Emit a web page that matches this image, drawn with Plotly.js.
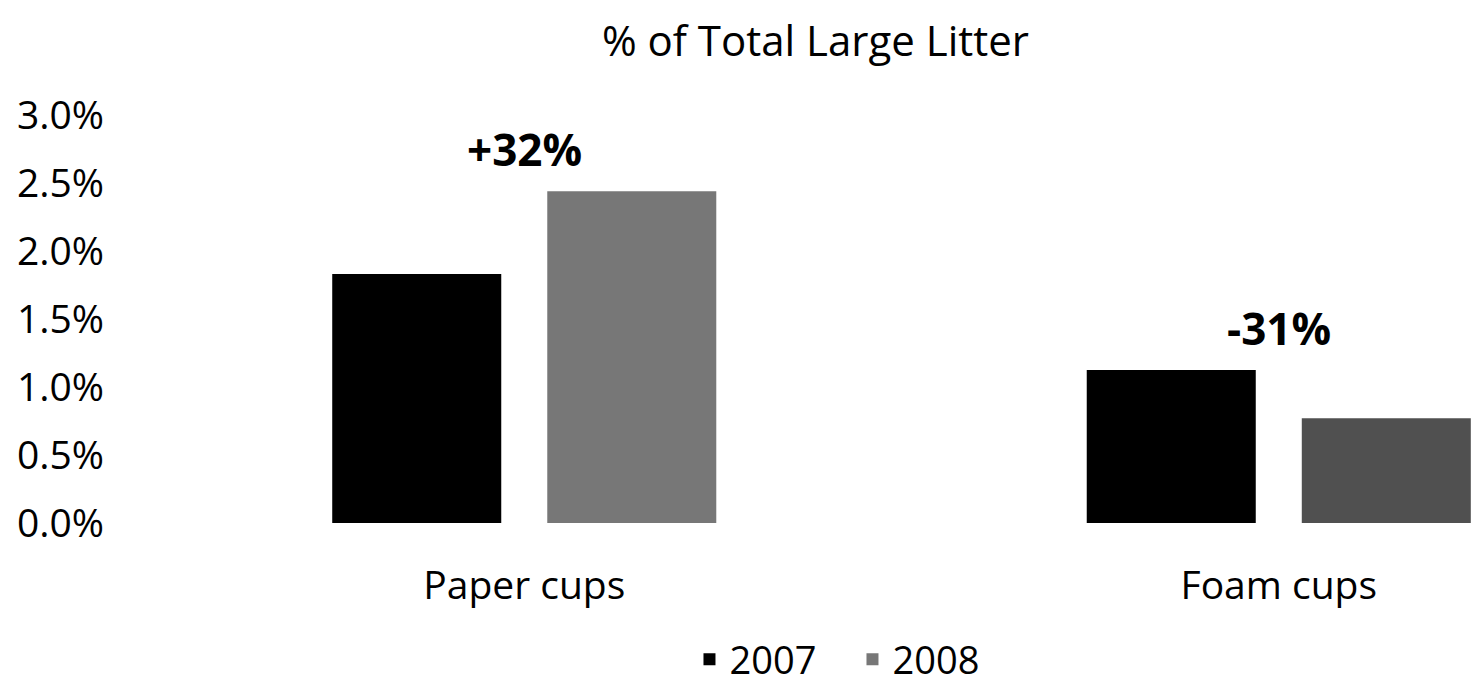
<!DOCTYPE html>
<html><head><meta charset="utf-8">
<script src="https://cdn.plot.ly/plotly-3.0.1.min.js"></script>
<style>html,body{margin:0;padding:0;background:#fff}#chart{width:1480px;height:687px}</style>
</head><body><div id="chart"></div>
<script>
const categories = ["Paper cups", "Foam cups"];
const values2007 = [0.0183, 0.01125];
const values2008 = [0.0244, 0.0077];
const changeLabels = ["+32%", "-31%"];
const yTicks = [0, 0.005, 0.01, 0.015, 0.02, 0.025, 0.03];

const font = "Open Sans, Noto Sans, sans-serif";
const traces = [
  {type: "bar", name: "2007", x: categories, y: values2007, marker: {color: "#000000"}},
  {type: "bar", name: "2008", x: categories, y: values2008, marker: {color: ["#777777", "#505050"]}}
];
const annotations = categories.map((c, i) => ({
  x: c, y: Math.max(values2007[i], values2008[i]), xref: "x", yref: "y",
  text: "<b>" + changeLabels[i] + "</b>", showarrow: false, yanchor: "bottom", yshift: 10,
  font: {family: font, size: 44, color: "#000"}
}));
const layout = {
  width: 1480, height: 687,
  margin: {l: 147, r: 0, t: 115, b: 164},
  paper_bgcolor: "#fff", plot_bgcolor: "#fff",
  title: {text: "% of Total Large Litter", font: {family: font, size: 42, color: "#000"}, x: 0.551, xanchor: "center", y: 0.94, yanchor: "middle"},
  barmode: "group", bargap: 0.43, bargroupgap: 0.214,
  xaxis: {range: [-0.5, 1.2667], showgrid: false, zeroline: false, showline: false, ticks: "",
    tickfont: {family: font, size: 39, color: "#000"}, ticklabelstandoff: 36},
  yaxis: {range: [0, 0.03], tickvals: yTicks, tickformat: ".1%", showgrid: false, zeroline: false, showline: false, ticks: "",
    tickfont: {family: font, size: 39, color: "#000"}, ticklabelstandoff: 42},
  showlegend: true,
  legend: {orientation: "h", xref: "container", yref: "container", x: 0.576, xanchor: "center", y: 0.04, yanchor: "middle",
    font: {family: font, size: 38, color: "#000"}, itemwidth: 30, traceorder: "normal",
    entrywidth: 118, entrywidthmode: "pixels"},
  annotations: annotations
};
Plotly.newPlot("chart", traces, layout, {displayModeBar: false, staticPlot: true});
</script></body></html>
